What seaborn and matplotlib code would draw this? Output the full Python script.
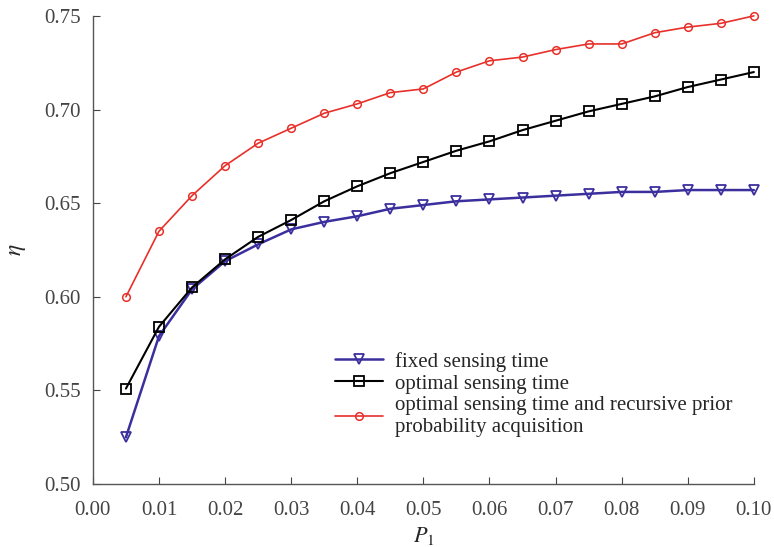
import numpy as np
import pandas as pd
import matplotlib
matplotlib.use("Agg")
import matplotlib.pyplot as plt
import seaborn as sns

# data
p1 = [0.005, 0.010, 0.015, 0.020, 0.025, 0.030, 0.035, 0.040, 0.045, 0.050,
      0.055, 0.060, 0.065, 0.070, 0.075, 0.080, 0.085, 0.090, 0.095, 0.100]
fixed = [0.525, 0.579, 0.604, 0.619, 0.628, 0.636, 0.640, 0.643, 0.647, 0.649,
         0.651, 0.652, 0.653, 0.654, 0.655, 0.656, 0.656, 0.657, 0.657, 0.657]
optimal = [0.551, 0.584, 0.605, 0.620, 0.632, 0.641, 0.651, 0.659, 0.666, 0.672,
           0.678, 0.683, 0.689, 0.694, 0.699, 0.703, 0.707, 0.712, 0.716, 0.720]
recursive = [0.600, 0.635, 0.654, 0.670, 0.682, 0.690, 0.698, 0.703, 0.709, 0.711,
             0.720, 0.726, 0.728, 0.732, 0.735, 0.735, 0.741, 0.744, 0.746, 0.750]
labels = ["fixed sensing time",
          "optimal sensing time",
          "optimal sensing time and recursive prior\nprobability acquisition"]

sns.set_style("ticks")
plt.rcParams['font.family'] = ['Liberation Serif', 'DejaVu Serif']
plt.rcParams['mathtext.fontset'] = 'stix'

fig, ax = plt.subplots(figsize=(7.74, 5.47), dpi=100)
fig.subplots_adjust(left=0.120, right=0.974, top=0.971, bottom=0.115)

sns.lineplot(x=p1, y=fixed, ax=ax, color='#3b2f9e', lw=1.8, marker='v', ms=6.5,
             mfc='none', mec='#3b2f9e', mew=1.3, label=labels[0], clip_on=False)
sns.lineplot(x=p1, y=optimal, ax=ax, color='black', lw=1.5, marker='s', ms=6.5,
             mfc='none', mec='black', mew=1.3, label=labels[1], clip_on=False)
sns.lineplot(x=p1, y=recursive, ax=ax, color='#e8302a', lw=1.2, marker='o', ms=5.5,
             mfc='none', mec='#e8302a', mew=1.1, label=labels[2], clip_on=False)

ax.set_xlim(0, 0.1)
ax.set_ylim(0.5, 0.75)
ax.set_xticks(np.arange(0, 0.101, 0.01))
ax.set_yticks(np.arange(0.5, 0.751, 0.05))
ax.xaxis.set_major_formatter(matplotlib.ticker.FormatStrFormatter('%.2f'))
ax.yaxis.set_major_formatter(matplotlib.ticker.FormatStrFormatter('%.2f'))
ax.tick_params(direction='in', length=5, labelsize=15, colors='#444444')
ax.tick_params(axis='x', pad=12)
ax.tick_params(axis='y', pad=9)
for s in ['left', 'bottom']:
    ax.spines[s].set_color('#555555')
    ax.spines[s].set_linewidth(1.0)
sns.despine(ax=ax)

ax.set_xlabel('$P_1$', fontsize=16, labelpad=4)
ax.set_ylabel(r'$\eta$', fontsize=17)
ax.yaxis.set_label_coords(-0.098, 0.5)

ax.legend(loc='upper left', bbox_to_anchor=(0.35, 0.305), frameon=False,
          fontsize=15, handlelength=2.3, labelspacing=0.12, handletextpad=0.6,
          borderpad=0)

fig.savefig('out.png', dpi=100)
